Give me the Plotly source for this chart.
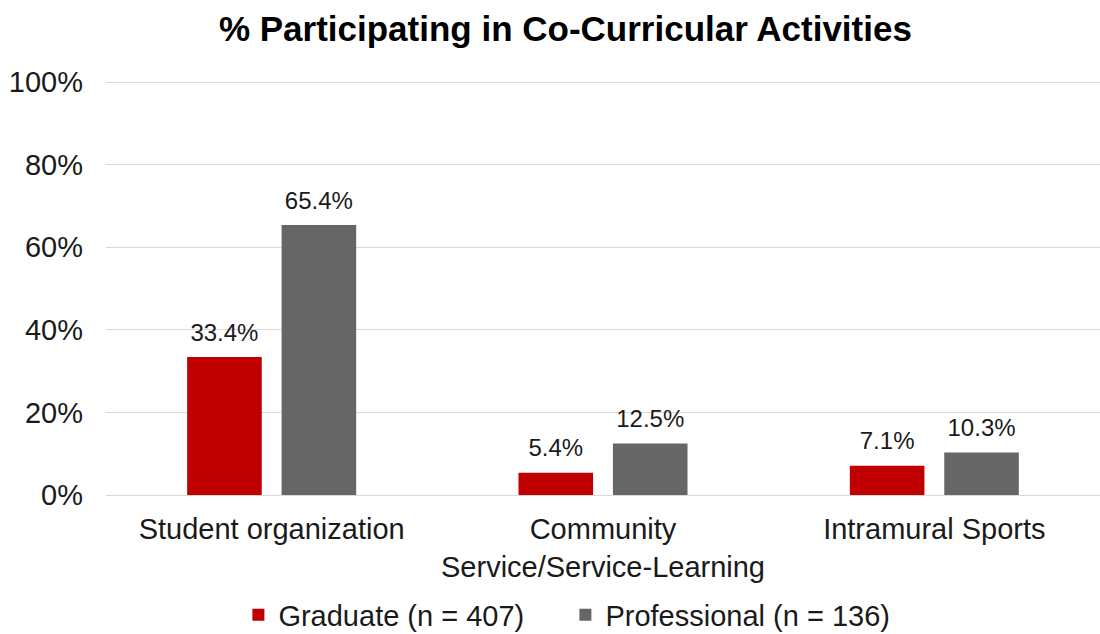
import plotly.graph_objects as go

categories = ["Student organization", "Community<br>Service/Service-Learning", "Intramural Sports"]
graduate = [33.4, 5.4, 7.1]
professional = [65.4, 12.5, 10.3]
series_names = ["Graduate (n = 407)", "Professional (n = 136)"]
colors = ["#C00000", "#666666"]
tick_vals = [0, 20, 40, 60, 80, 100]
tick_text = ["0%", "20%", "40%", "60%", "80%", "100%"]

FONT = "Liberation Sans, Arial, sans-serif"
TXT = "#1a1a1a"

fig = go.Figure()
for name, vals, col, grp in zip(series_names, [graduate, professional], colors, ["g", "p"]):
    fig.add_trace(go.Bar(
        x=categories, y=vals, name=name, marker=dict(color=col, line=dict(width=0)),
        offsetgroup=grp, alignmentgroup="a",
    ))
for vals, grp in zip([graduate, professional], ["g", "p"]):
    fig.add_trace(go.Scatter(
        x=categories, y=vals, mode="markers+text", text=[f"{v:.1f}%" for v in vals],
        textposition="top center", textfont=dict(family=FONT, size=24, color=TXT),
        marker=dict(size=15, opacity=0), showlegend=False, hoverinfo="skip",
        offsetgroup=grp, alignmentgroup="a", cliponaxis=False,
    ))

fig.update_layout(
    width=1100, height=634,
    margin=dict(l=106, r=0, t=80, b=139, autoexpand=False),
    paper_bgcolor="white", plot_bgcolor="white",
    barmode="group", scattermode="group", bargap=0.43, bargroupgap=0.21, scattergap=0.43,
    font=dict(family=FONT, size=29, color=TXT),
    title=dict(text="<b>% Participating in Co-Curricular Activities</b>",
               font=dict(family=FONT, size=35, color="#000"),
               x=0.514, xanchor="center", y=0.955, yanchor="middle"),
    legend=dict(orientation="h", xref="container", yref="container",
                x=0.514, xanchor="center", y=0.03, yanchor="middle",
                entrywidth=282, itemwidth=30,
                font=dict(family=FONT, size=29, color=TXT), traceorder="normal"),
    showlegend=True,
)
fig.update_yaxes(range=[0, 100.5], tickvals=tick_vals, ticktext=tick_text, automargin=False,
                 showgrid=True, gridcolor="#D9D9D9", gridwidth=1.3,
                 zeroline=False, showline=False, ticks="", ticklabelstandoff=22,
                 tickfont=dict(family=FONT, size=29, color=TXT))
fig.update_xaxes(showline=True, linecolor="#D9D9D9", linewidth=1.3, ticks="", automargin=False,
                 tickfont=dict(family=FONT, size=29, color=TXT), ticklabelstandoff=8)

fig.write_html("out.html")
